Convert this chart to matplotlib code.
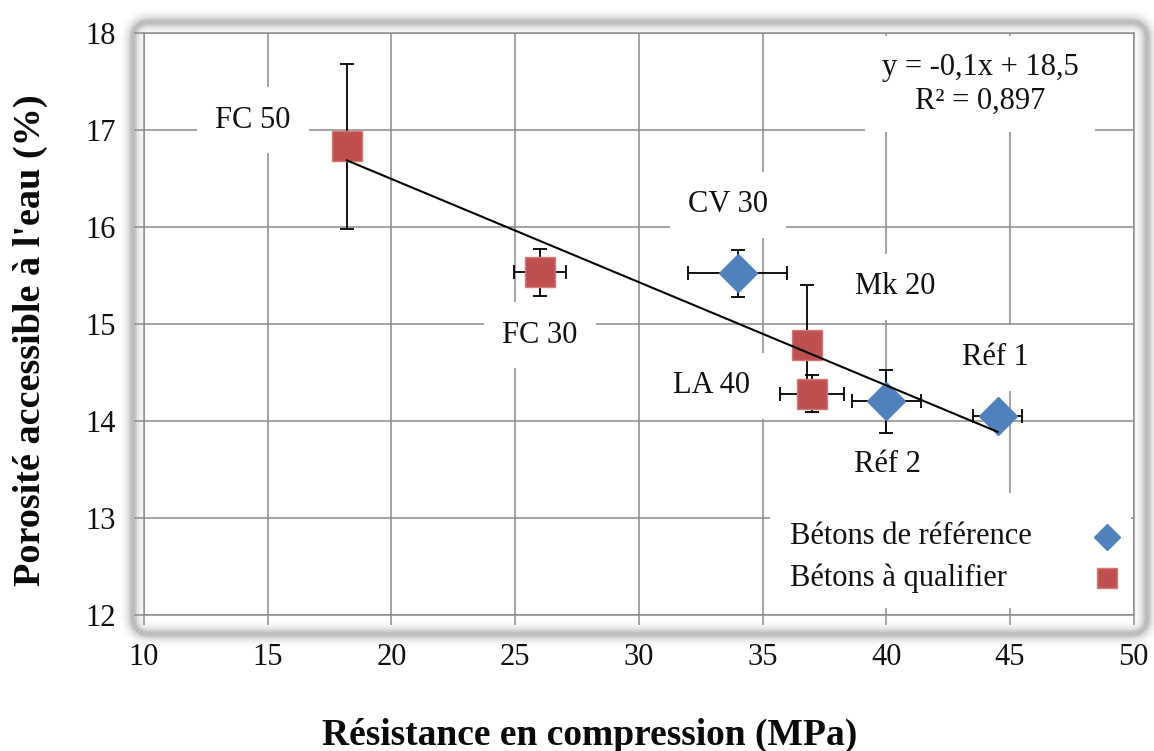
import numpy as np
import matplotlib
matplotlib.use("Agg")
import matplotlib.pyplot as plt
from matplotlib.patches import FancyBboxPatch, Rectangle
from matplotlib.transforms import IdentityTransform

# ---------------- data ----------------
ref_names = ["CV 30", "Réf 2", "Réf 1"]
ref_x = [34.0, 40.0, 44.5]
ref_y = [15.52, 14.20, 14.05]
ref_xerr = [2.0, 1.4, 1.0]
ref_yerr = [0.24, 0.32, 0.05]

qual_names = ["FC 50", "FC 30", "Mk 20", "LA 40"]
qual_x = [18.2, 26.0, 36.8, 37.0]
qual_y = [16.83, 15.53, 14.78, 14.28]
qual_xerr = [0.0, 1.05, 0.0, 1.3]
qual_yerr = [0.85, 0.24, 0.62, 0.19]

x_ticks = [10, 15, 20, 25, 30, 35, 40, 45, 50]
y_ticks = [12, 13, 14, 15, 16, 17, 18]

legend_labels = ["Bétons de référence", "Bétons à qualifier"]
equation_text = "y = -0,1x + 18,5\nR² = 0,897"
x_title = "Résistance en compression (MPa)"
y_title = "Porosité accessible à l'eau (%)"

# label anchor positions (data coordinates)
label_pos = {
    "FC 50": (14.4, 17.10),
    "FC 30": (26.0, 14.885),
    "CV 30": (33.6, 16.225),
    "Mk 20": (40.36, 15.38),
    "LA 40": (32.92, 14.36),
    "Réf 1": (44.4, 14.65),
    "Réf 2": (40.07, 13.55),
}

RED = "#C0504D"
BLUE = "#4F81BD"
GRID = "#8c8c8c"
SERIF = ["Liberation Serif", "DejaVu Serif"]

plt.rcParams["font.family"] = SERIF

W, H = 1154, 751
fig = plt.figure(figsize=(W / 100, H / 100), dpi=100)
fig.patch.set_facecolor("white")

# axes placement
l, r, t, b = 144, 1133.6, 32.7, 615
ax = fig.add_axes([l / W, 1 - b / H, (r - l) / W, (b - t) / H])

# soft rounded frame around the plot area (display pixel coordinates)
fx0, fx1, fy_top, fy_bot = 133, 1147, 22, 634
for lw, a in [(24, 0.035), (19, 0.05), (15, 0.07), (11, 0.10),
              (7.5, 0.14), (4.5, 0.2)]:
    fb = FancyBboxPatch((fx0, H - fy_bot), fx1 - fx0, fy_bot - fy_top,
                        boxstyle="round,pad=0,rounding_size=17",
                        transform=IdentityTransform(), facecolor="none",
                        edgecolor="#767676", linewidth=lw * 0.72, alpha=a,
                        zorder=-5)
    fig.patches.append(fb)

ax.set_xlim(10, 50)
ax.set_ylim(12, 18)
ax.set_xticks(x_ticks)
ax.set_yticks(y_ticks)
ax.set_axisbelow(True)
ax.grid(True, color=GRID, linewidth=1.1)
for s in ax.spines.values():
    s.set_color(GRID)
    s.set_linewidth(1.1)
ax.tick_params(direction="out", length=7, width=1.1, color=GRID, pad=13,
               labelsize=22, labelcolor="#111111")

# error bars
ax.errorbar(ref_x, ref_y, xerr=ref_xerr, yerr=ref_yerr, fmt="none",
            ecolor="black", elinewidth=1.3, capsize=5, capthick=1.3, zorder=3)
ax.errorbar(qual_x, qual_y, xerr=qual_xerr, yerr=qual_yerr, fmt="none",
            ecolor="black", elinewidth=1.3, capsize=5, capthick=1.3, zorder=3)

# markers
ax.plot(ref_x, ref_y, ls="none", marker="D", ms=19.5, mfc=BLUE, mec=BLUE,
        mew=1, zorder=4)
ax.plot(qual_x, qual_y, ls="none", marker="s", ms=22, mfc=RED, mec="#D27A77",
        mew=1, zorder=4)

# linear trendline over all points
all_x = np.array(ref_x + qual_x)
all_y = np.array(ref_y + qual_y)
coef = np.polyfit(all_x, all_y, 1)
xs = np.array([all_x.min(), all_x.max()])
ax.plot(xs, np.polyval(coef, xs), color="black", lw=1.5, zorder=5)

# point labels
for name in ref_names + qual_names:
    px, py = label_pos[name]
    ax.text(px, py, name, ha="center", va="center", fontsize=22,
            color="#111111", zorder=2,
            bbox=dict(boxstyle="square,pad=0.6", fc="white", ec="none"))

# equation
ax.text(43.8, 17.47, equation_text, ha="center", va="center", fontsize=22,
        linespacing=1.2, color="#111111", zorder=2,
        bbox=dict(boxstyle="square,pad=0.55", fc="white", ec="none"))

# legend (drawn in axes coordinates)
ax.add_patch(Rectangle((0.6326, 0.012), 0.3645, 0.197, transform=ax.transAxes,
                       facecolor="white", edgecolor="none", zorder=2))
ax.text(0.6528, 0.134, legend_labels[0], transform=ax.transAxes, fontsize=22,
        ha="left", va="center", color="#111111", zorder=3)
ax.text(0.6528, 0.0635, legend_labels[1], transform=ax.transAxes, fontsize=22,
        ha="left", va="center", color="#111111", zorder=3)
ax.plot([0.973], [0.134], transform=ax.transAxes, ls="none", marker="D",
        ms=13.5, mfc=BLUE, mec=BLUE, zorder=4, clip_on=False)
ax.plot([0.973], [0.0635], transform=ax.transAxes, ls="none", marker="s",
        ms=15, mfc=RED, mec="#D27A77", zorder=4, clip_on=False)

# axis titles
ax.set_xlabel(x_title, fontsize=27, fontweight="bold", va="center",
              color="#0a0a0a")
ax.xaxis.set_label_coords((590 - l) / (r - l), (b - 735) / (b - t))
ax.set_ylabel(y_title, fontsize=27.5, fontweight="bold", va="center",
              color="#0a0a0a")
ax.yaxis.set_label_coords((30 - l) / (r - l), (b - 340) / (b - t))

fig.savefig("out.png", dpi=100, facecolor="white")
